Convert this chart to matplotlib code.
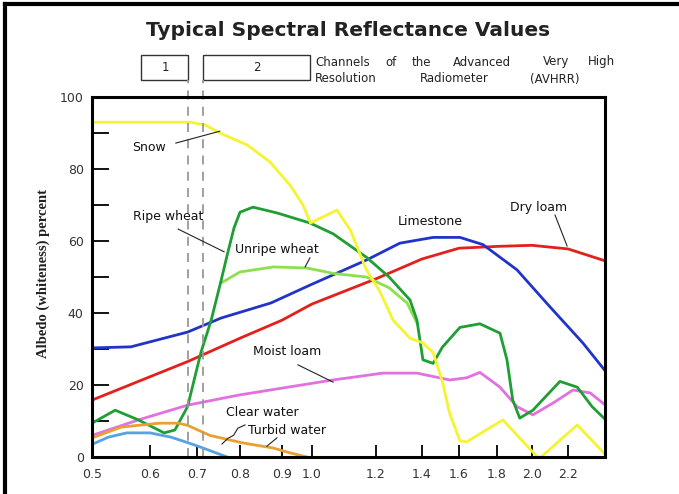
import numpy as np
import matplotlib
matplotlib.use('Agg')
import matplotlib.pyplot as plt
from matplotlib.lines import Line2D
from matplotlib.patches import Rectangle

# wavelength (micrometres) and albedo (percent) for each surface
snow_x = [0.5, 0.685, 0.72, 0.753, 0.817, 0.871, 0.927, 0.97, 0.995, 1.078, 1.12, 1.17, 1.217, 1.274,
          1.348, 1.405, 1.46, 1.51, 1.55, 1.605, 1.64, 1.834, 2.03, 2.05, 2.25, 2.4]
snow_y = [93, 93, 92.2, 90, 86.7, 82, 75.5, 70, 65, 68.6, 63, 52, 46, 38,
          33, 31.7, 29, 21, 12, 4.5, 4.2, 10.3, 0, 0, 8.9, 0.8]

ripe_x = [0.5, 0.54, 0.58, 0.63, 0.653, 0.68, 0.709, 0.733, 0.756, 0.77, 0.786, 0.8, 0.831,
          0.888, 0.993, 1.066, 1.17, 1.257, 1.348, 1.378, 1.405, 1.46, 1.51, 1.605, 1.71,
          1.817, 1.857, 1.89, 1.93, 2.005, 2.155, 2.25, 2.33, 2.4]
ripe_y = [9.4, 13, 10.3, 6.7, 7.5, 14, 29, 38, 49, 56, 63.6, 68, 69.4,
          67.8, 65, 62, 55.5, 50, 43.6, 38, 27, 26, 30.5, 36, 37,
          34.4, 27, 15.8, 10.8, 13, 21, 19.4, 14, 10.5]

unripe_x = [0.76, 0.8, 0.88, 0.983, 1.066, 1.17, 1.257, 1.335, 1.38]
unripe_y = [48.6, 51.4, 52.8, 52.5, 51, 50, 47, 42.8, 37]

lime_x = [0.5, 0.567, 0.68, 0.756, 0.874, 1.0, 1.17, 1.304, 1.46, 1.605, 1.726, 1.914, 2.1, 2.28, 2.4]
lime_y = [30.3, 30.6, 34.7, 38.6, 42.8, 48, 54.7, 59.4, 61, 61, 59, 52, 41.7, 31.7, 24]

dry_x = [0.5, 0.58, 0.68, 0.8, 0.9, 1.0, 1.2, 1.4, 1.6, 1.8, 2.0, 2.2, 2.4]
dry_y = [15.8, 21, 26.5, 33, 38, 42.5, 49.5, 55, 58, 58.5, 58.8, 57.8, 54.5]

moist_x = [0.5, 0.58, 0.68, 0.797, 0.92, 1.066, 1.23, 1.378, 1.55, 1.64, 1.71, 1.817,
           1.914, 2.005, 2.117, 2.227, 2.32, 2.4]
moist_y = [6, 10.3, 14.4, 17.2, 19.4, 21.4, 23.3, 23.3, 21.4, 22, 23.5, 19.4,
           14, 11.7, 15, 18.6, 17.8, 14.5]

turbid_x = [0.5, 0.55, 0.62, 0.66, 0.68, 0.73, 0.807, 0.879, 0.92, 0.983]
turbid_y = [5.3, 8.3, 9.4, 9.4, 8.8, 6, 3.9, 2.5, 1.3, 0]

clear_x = [0.5, 0.528, 0.56, 0.6, 0.645, 0.68, 0.707, 0.77]
clear_y = [3.5, 5.5, 6.7, 6.7, 5.5, 4, 2.8, 0]

x_ticks = [0.5, 0.6, 0.7, 0.8, 0.9, 1.0, 1.2, 1.4, 1.6, 1.8, 2.0, 2.2]
x_labels = ['0.5', '0.6', '0.7', '0.8', '0.9', '1.0', '1.2', '1.4', '1.6', '1.8', '2.0', '2.2']

# AVHRR channel limits
ch1 = (0.584, 0.68)
ch2 = (0.714, 0.993)

# uneven wavelength axis, stretched at the short end
axis_wl = [0.4, 0.5, 0.6, 0.7, 0.8, 0.9, 1.0, 1.2, 1.4, 1.6, 1.8, 2.0, 2.2, 2.4, 2.6]
axis_pos = [34, 92, 150, 197, 240, 282, 312, 376, 422, 459, 497, 532, 568, 605, 642]

def fwd(x):
    return np.interp(x, axis_wl, axis_pos)

def inv(p):
    return np.interp(p, axis_pos, axis_wl)

W, H = 679, 494
fig = plt.figure(figsize=(W/100, H/100), dpi=100)
ax = fig.add_axes([92/W, 1-457/H, (605-92)/W, 360/H])
ax.set_xscale('function', functions=(fwd, inv))
ax.set_xlim(0.5, 2.4)
ax.set_ylim(0, 100)

lw = 2.0
ax.plot(dry_x, dry_y, color='#e3201c', lw=lw)
ax.plot(lime_x, lime_y, color='#2234c8', lw=lw)
ax.plot(moist_x, moist_y, color='#e271e0', lw=lw)
ax.plot(unripe_x, unripe_y, color='#8ce04c', lw=lw)
ax.plot(ripe_x, ripe_y, color='#1f9e34', lw=lw)
ax.plot(turbid_x, turbid_y, color='#e8a032', lw=lw)
ax.plot(clear_x, clear_y, color='#56a2e2', lw=lw)
ax.plot(snow_x, snow_y, color='#f4f430', lw=lw)

# channel boundaries
for xv in [ch1[1], ch2[0]]:
    ax.add_line(Line2D([xv, xv], [0, 1.047], transform=ax.get_xaxis_transform(),
                       color='#999999', lw=1.3, ls=(0, (5, 4)), clip_on=False))

tr = ax.get_xaxis_transform()
for (a, b), name in [(ch1, '1'), (ch2, '2')]:
    ax.add_patch(Rectangle((a, 1.047), b - a, 0.07, transform=tr, fill=False,
                           ec='#333333', lw=1.0, clip_on=False))
    ax.text((a + b) / 2 if name == '1' else 0.84, 1.082, name, transform=tr,
            ha='center', va='center', fontsize=8.5, color='#222222')

# channel caption, one word at a time for the wide spacing
caption = [(315, 62, 'Channels'), (385, 62, 'of'), (412, 62, 'the'), (453, 62, 'Advanced'),
           (543, 62, 'Very'), (588, 62, 'High'),
           (315, 79, 'Resolution'), (420, 79, 'Radiometer'), (530, 79, '(AVHRR)')]
for px, py, word in caption:
    fig.text(px/W, 1-py/H, word, ha='left', va='center', fontsize=8.5, color='#222222')

# curve labels and leader lines
lab = dict(fontsize=9, color='#111111', va='center')
ax.text(0.57, 86, 'Snow', **lab)
ax.plot([0.655, 0.753], [87.2, 90.5], color='#222222', lw=0.8)
ax.text(0.57, 66.7, 'Ripe wheat', **lab)
ax.plot([0.66, 0.763], [63.3, 57], color='#222222', lw=0.8)
ax.text(0.788, 57.5, 'Unripe wheat', **lab)
ax.plot([0.977, 0.993], [52.8, 55.3], color='#222222', lw=0.8)
ax.text(1.296, 65.3, 'Limestone', **lab)
ax.text(1.874, 69.4, 'Dry loam', **lab)
ax.plot([2.128, 2.195], [67.2, 58.6], color='#222222', lw=0.8)
ax.text(0.83, 29.2, 'Moist loam', **lab)
ax.plot([0.953, 1.066], [25.6, 20.8], color='#222222', lw=0.8)
ax.text(0.767, 12.5, 'Clear water', **lab)
ax.plot([0.758, 0.772, 0.785, 0.795, 0.812], [3.6, 5.2, 6.0, 8.0, 8.9], color='#222222', lw=0.8)
ax.text(0.819, 7.5, 'Turbid water', **lab)
ax.plot([0.864, 0.888], [3.0, 5.3], color='#222222', lw=0.8)

# ticks pointing into the plot
ax.set_xticks(x_ticks)
ax.set_xticklabels(x_labels)
ax.set_yticks([0, 20, 40, 60, 80, 100])
ax.set_yticks([10, 30, 50, 70, 90], minor=True)
ax.xaxis.set_minor_locator(matplotlib.ticker.NullLocator())
ax.tick_params(axis='x', direction='in', length=9, width=1.3, labelsize=9,
               labelcolor='#333333', pad=8)
ax.tick_params(axis='y', which='both', direction='in', length=12, width=1.3,
               labelsize=9, labelcolor='#333333', pad=6)
for s in ax.spines.values():
    s.set_linewidth(2.2)

fig.text(43/W, 1-273/H, 'Albedo (whiteness) percent', rotation=90,
         ha='center', va='center', family='Liberation Serif', fontweight='bold',
         fontsize=10.5, color='#222222')
fig.text(348/W, 1-30/H, 'Typical Spectral Reflectance Values', ha='center',
         va='center', fontsize=14.5, fontweight='bold', color='#222222')

# outer frame on the left and top edges
fig.add_artist(Line2D([5/W, 5/W], [0, 1-4/H], transform=fig.transFigure,
                      color='black', lw=3))
fig.add_artist(Line2D([5/W, 1], [1-4/H, 1-4/H], transform=fig.transFigure,
                      color='black', lw=3))

plt.savefig('out.png', dpi=100)
